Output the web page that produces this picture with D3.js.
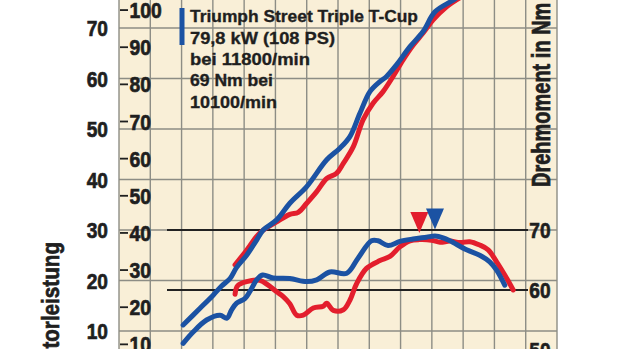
<!DOCTYPE html>
<html>
<head>
<meta charset="utf-8">
<script src="https://cdn.jsdelivr.net/npm/d3@7"></script>
<style>
  html, body { margin: 0; padding: 0; background: #ffffff; }
  svg { display: block; }
  .lbl { font-family: "Liberation Sans", Arial, sans-serif; font-weight: bold; fill: #1f1f1f; stroke: #1f1f1f; stroke-width: 0.7px; }
  .leg { stroke-width: 0.35px; }
</style>
</head>
<body>
<svg id="chart" width="620" height="349"></svg>
<script>
// Triumph Street Triple T-Cup – power and torque over engine speed
const rpmGrid = d3.range(0, 14001, 1000);
const kwTicks = [10, 20, 30, 40, 50, 60, 70];
const psTicks = [10, 20, 30, 40, 50, 60, 70, 80, 90, 100];
const nmTicks = [50, 60, 70];
const nmRefLines = [60, 70];

const legendLines = ["Triumph Street Triple T-Cup", "79,8 kW (108 PS)", "bei 11800/min", "69 Nm bei", "10100/min"];

// Blue run: power (kW)
const bluePowerRpm = [2050, 2590, 3010, 3280, 3550, 3760, 4080, 4400, 4610, 5040, 5460, 6000, 6640, 7060, 7380, 7700, 8020, 8340, 8550, 8870, 9300, 9720, 10100, 10680, 11100, 11500, 11800, 12000, 12300];
const bluePowerKw  = [11.2, 14.5, 17.1, 18.9, 20.4, 22.6, 25.0, 28.0, 30.0, 32.0, 35.3, 38.6, 43.9, 46.2, 48.5, 53.1, 57.4, 59.4, 60.4, 62.7, 66.3, 69.3, 73.2, 75.5, 77.3, 78.8, 79.8, 79.5, 78.3];

// Red run: power (kW)
const redPowerRpm = [3710, 4080, 4500, 5040, 5460, 5730, 6000, 6320, 6640, 6950, 7170, 7490, 7800, 8120, 8440, 8760, 9080, 9400, 9720, 10040, 10470, 10900, 11400, 11800, 12200, 12600];
const redPowerKw  = [23.1, 26.0, 29.4, 31.6, 33.1, 33.5, 35.3, 37.6, 40.2, 41.2, 43.2, 46.5, 51.8, 55.1, 57.4, 60.4, 63.7, 66.6, 69.0, 71.6, 74.2, 76.0, 77.6, 78.4, 78.0, 76.5];

// Blue run: torque (Nm)
const blueTorqueRpm = [2050, 2370, 2800, 3230, 3450, 3600, 3760, 4030, 4190, 4400, 4590, 4930, 5460, 6000, 6320, 6740, 7280, 7640, 8070, 8280, 8600, 8980, 9400, 9830, 10100, 10360, 10580, 11110, 11530, 11850, 12070, 12330];
const blueTorqueNm  = [51.1, 53.0, 55.0, 55.8, 55.3, 56.7, 57.8, 58.6, 59.8, 61.7, 62.5, 62.0, 61.9, 61.4, 61.7, 63.0, 62.8, 65.3, 68.2, 68.2, 67.4, 68.1, 68.5, 68.8, 69.0, 68.7, 68.2, 66.7, 65.8, 64.7, 63.3, 60.8];

// Red run: torque (Nm)
const redTorqueRpm = [3710, 3790, 4080, 4500, 4770, 5040, 5250, 5460, 5680, 5890, 6210, 6530, 6640, 6850, 7170, 7380, 7590, 7910, 8340, 8660, 8980, 9300, 9600, 9990, 10260, 10580, 10900, 11210, 11530, 11800, 12070, 12330, 12600];
const redTorqueNm  = [59.3, 60.7, 61.4, 61.6, 60.8, 59.7, 58.9, 57.7, 55.8, 55.8, 57.0, 57.3, 57.8, 56.6, 56.7, 58.3, 61.0, 63.6, 64.9, 65.6, 67.2, 68.2, 68.4, 68.3, 67.95, 68.15, 67.9, 68.05, 67.5, 66.7, 64.7, 62.5, 60.0];

// Peak-torque markers
const peakMarkers = [
  { rpm: 9600, nm: 68.4, color: "#e31e2d" },
  { rpm: 10100, nm: 69.0, color: "#1b52a3" }
];

const BLUE = "#1b52a3", RED = "#e31e2d";

const svg = d3.select("#chart");
const plot = { left: 119, right: 557 };

const x = d3.scaleLinear().domain([0, 14000]).range([plot.left, plot.right]);
const yKw = d3.scaleLinear().domain([0, 70]).range([381.5, 28]);
const yPs = d3.scaleLinear().domain([0, 100]).range([381.5, 381.5 - 100 * (yKw(0) - yKw(10)) / (10 * 1.35962)]);
const yNm = d3.scaleLinear().domain([50, 70]).range([350, 230]);

// condensed bold label: horizontal squeeze of a regular bold face
function label(g, tx, ty, size, sx, anchor, rot) {
  return g.append("text").attr("class", "lbl")
    .attr("transform", `translate(${tx},${ty})` + (rot ? ` rotate(${rot})` : "") + ` scale(${sx},1)`)
    .attr("font-size", size)
    .attr("text-anchor", anchor);
}

// plot background
svg.append("rect")
  .attr("x", plot.left).attr("y", 0)
  .attr("width", plot.right - plot.left).attr("height", 349)
  .attr("fill", "#f9efd7");

// grid
const grid = svg.append("g").attr("stroke", "#8d8d85").attr("stroke-width", 1.4);
grid.selectAll("line.v").data(rpmGrid).join("line")
  .attr("x1", d => x(d)).attr("x2", d => x(d))
  .attr("y1", 0).attr("y2", 349);
grid.selectAll("line.h").data(kwTicks).join("line")
  .attr("x1", plot.left).attr("x2", plot.right)
  .attr("y1", d => yKw(d)).attr("y2", d => yKw(d));

// torque reference lines
svg.append("g").attr("stroke", "#222").attr("stroke-width", 2)
  .selectAll("line").data(nmRefLines).join("line")
  .attr("x1", 167).attr("x2", 528)
  .attr("y1", d => yNm(d)).attr("y2", d => yNm(d));

// left outer axis: kW
const kwG = svg.append("g");
kwTicks.forEach(d => label(kwG, 108, yKw(d) + 8, 22.5, 0.85, "end").text(d));

// inner axis: PS with small tick dashes
const ps = svg.append("g");
ps.selectAll("line").data(psTicks).join("line")
  .attr("x1", 120).attr("x2", 128)
  .attr("y1", d => yPs(d)).attr("y2", d => yPs(d))
  .attr("stroke", "#1f1f1f").attr("stroke-width", 1.8);
psTicks.forEach(d => label(ps, 129.5, yPs(d) + 8, 22.5, 0.86, "start").text(d));

// right axis: Nm
const nmG = svg.append("g");
nmTicks.forEach(d => label(nmG, 540, yNm(d) + 8, 22.5, 0.85, "middle").text(d));

// axis titles
label(svg, 59, 242, 24, 0.86, "end", -90).text("Motorleistung");
label(svg, 550, 187, 25, 0.8, "start", -90).text("Drehmoment in Nm");

// curves
const line = d3.line().curve(d3.curveCatmullRom.alpha(0.5));
function drawCurve(rpms, vals, yScale, color) {
  const pts = rpms.map((r, i) => [x(r), yScale(vals[i])]);
  svg.append("path")
    .attr("d", line(pts))
    .attr("fill", "none")
    .attr("stroke", color)
    .attr("stroke-width", 5)
    .attr("stroke-linecap", "round")
    .attr("stroke-linejoin", "round");
}
drawCurve(redTorqueRpm, redTorqueNm, yNm, RED);
drawCurve(redPowerRpm, redPowerKw, yKw, RED);
drawCurve(blueTorqueRpm, blueTorqueNm, yNm, BLUE);
drawCurve(bluePowerRpm, bluePowerKw, yKw, BLUE);

// peak markers: downward triangles just above the curve
svg.append("g").selectAll("path").data(peakMarkers).join("path")
  .attr("d", d => {
    const tx = x(d.rpm), ty = yNm(d.nm) - 6.5;
    return `M${tx - 9},${ty - 21}L${tx + 9},${ty - 21}L${tx},${ty}Z`;
  })
  .attr("fill", d => d.color);

// legend
svg.append("rect").attr("x", 179.5).attr("y", 8).attr("width", 5).attr("height", 37).attr("fill", BLUE);
const legendWidths = [228, 145, 120, 83, 87];
const legendBase = [22, 44, 65, 86, 108];
svg.append("g").selectAll("text").data(legendLines).join("text")
  .attr("class", "lbl leg")
  .attr("x", 190).attr("y", (d, i) => legendBase[i])
  .attr("font-size", 17)
  .attr("textLength", (d, i) => legendWidths[i])
  .attr("lengthAdjust", "spacingAndGlyphs")
  .text(d => d);
</script>
</body>
</html>
